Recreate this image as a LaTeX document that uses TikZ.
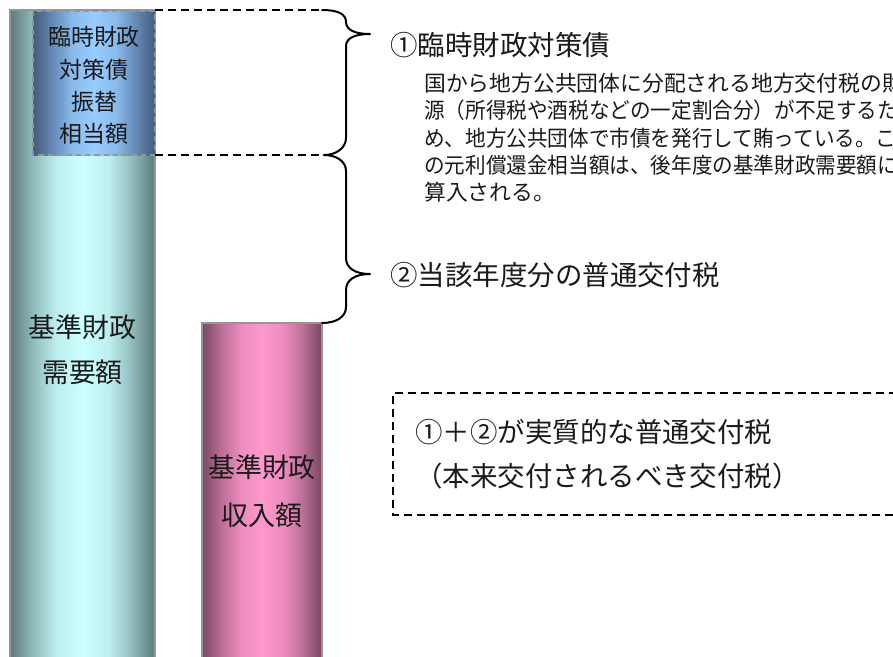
\documentclass[tikz,border=0pt]{standalone}
\usepackage{fontspec}
\newfontfamily\jp{Noto Sans CJK JP}
\definecolor{tealD}{RGB}{92,122,122}
\definecolor{tealM}{RGB}{145,188,188}
\definecolor{tealL2}{RGB}{190,238,238}
\definecolor{tealL}{RGB}{204,255,255}
\definecolor{blueD}{RGB}{68,92,125}
\definecolor{blueM}{RGB}{102,137,182}
\definecolor{blueL2}{RGB}{138,186,236}
\definecolor{blueL}{RGB}{153,204,255}
\definecolor{pinkD}{RGB}{120,72,97}
\definecolor{pinkM}{RGB}{188,110,150}
\definecolor{pinkL2}{RGB}{236,140,190}
\definecolor{pinkL}{RGB}{255,153,204}
\definecolor{edgegray}{RGB}{150,150,150}
\definecolor{txt}{RGB}{26,26,26}
\pgfdeclarehorizontalshading{tealsh}{100bp}{color(0bp)=(tealD); color(25bp)=(tealD); color(33bp)=(tealM); color(41bp)=(tealL2); color(50bp)=(tealL); color(59bp)=(tealL2); color(67bp)=(tealM); color(75bp)=(tealD); color(100bp)=(tealD)}
\pgfdeclarehorizontalshading{bluesh}{100bp}{color(0bp)=(blueD); color(25bp)=(blueD); color(33bp)=(blueM); color(41bp)=(blueL2); color(50bp)=(blueL); color(59bp)=(blueL2); color(67bp)=(blueM); color(75bp)=(blueD); color(100bp)=(blueD)}
\pgfdeclarehorizontalshading{pinksh}{100bp}{color(0bp)=(pinkD); color(25bp)=(pinkD); color(33bp)=(pinkM); color(41bp)=(pinkL2); color(50bp)=(pinkL); color(59bp)=(pinkL2); color(67bp)=(pinkM); color(75bp)=(pinkD); color(100bp)=(pinkD)}
\tikzset{
  barborder/.style={draw=edgegray, line width=1.5pt},
  blueborder/.style={draw=edgegray, line width=1.5pt, dash pattern=on 4pt off 3pt},
  dline/.style={draw=black, line width=1.1pt, dash pattern=on 6pt off 3.75pt},
  bracestyle/.style={draw=black, line width=1.5pt, line cap=round, line join=round},
  headtext/.style={inner sep=0pt, anchor=west, text=txt, font=\jp\fontsize{20.6pt}{24pt}\selectfont},
  desctext/.style={inner sep=0pt, anchor=west, text=txt, font=\jp\fontsize{16.35pt}{19pt}\selectfont},
  bluetext/.style={inner sep=0pt, text=txt, font=\jp\fontsize{17.2pt}{20pt}\selectfont},
  bartext/.style={inner sep=0pt, text=txt, font=\jp\fontsize{20.2pt}{24pt}\selectfont},
  sumbox/.style={draw=black, line width=1.1pt, dash pattern=on 6pt off 3.75pt}
}
\begin{document}
\begin{tikzpicture}[x=0.75pt,y=-0.75pt]
\useasboundingbox (0,0) rectangle (893,657);
\clip (0,0) rectangle (893,657);
\fill[white] (0,0) rectangle (893,657);
% key points
\coordinate (tealTL) at (10,10);
\coordinate (tealBR) at (155,690);
\coordinate (blueTL) at (33,11);
\coordinate (blueBR) at (155,155);
\coordinate (blueTR) at (155,10);
\coordinate (pinkTL) at (202,323);
\coordinate (pinkBR) at (322,690);
\coordinate (pinkTR) at (322,323);
\coordinate (b1start) at (322,10);
\coordinate (b1tip) at (370,34);
\coordinate (mid) at (324,155);
\coordinate (b2tip) at (370,274);
% teal bar
\shade[shading=tealsh] (tealTL) rectangle (tealBR);
\draw[barborder] (10,690) -- (tealTL) -- (155,10) -- (tealBR);
% blue box
\shade[shading=bluesh] (blueTL) rectangle (blueBR);
\draw[blueborder] (blueTL) rectangle (blueBR);
% pink bar
\shade[shading=pinksh] (pinkTL) rectangle (pinkBR);
\draw[barborder] (202,690) -- (pinkTL) -- (pinkTR) -- (pinkBR);
% dashed guide lines
\draw[dline] (blueTR) -- (b1start);
\draw[dline] (blueBR) -- (mid);
% brace 1
\draw[bracestyle] (b1start) .. controls (338,10) and (346,14) .. (346,22)
  .. controls (346,30) and (355,34) .. (b1tip)
  .. controls (355,34) and (346,38) .. (346,46) -- (346,138)
  .. controls (346,148) and (336,155) .. (mid);
% brace 2
\draw[bracestyle] (mid) .. controls (336,155) and (346,161) .. (346,171) -- (346,258)
  .. controls (346,268) and (355,274) .. (b2tip)
  .. controls (355,274) and (346,280) .. (346,290) -- (346,307)
  .. controls (346,317) and (336,323) .. (pinkTR);
% bar texts
\node[bluetext] (bl1) at (94,37) {臨時財政};
\node[bluetext] (bl2) at (94,70) {対策債};
\node[bluetext] (bl3) at (94,102) {振替};
\node[bluetext] (bl4) at (94,134) {相当額};
\node[bartext] (tl1) at (82.5,327) {基準財政};
\node[bartext] (tl2) at (82.5,372) {需要額};
\node[bartext] (pl1) at (262,467) {基準財政};
\node[bartext] (pl2) at (262,515) {収入額};
% right texts
\node[headtext] (h1) at (390,45) {①臨時財政対策債};
\node[desctext] (d1) at (424,83) {国から地方公共団体に分配される地方交付税の財};
\node[desctext] (d2) at (424,110) {\scalebox{0.945}[1]{源（所得税や酒税などの一定割合分）が不足するた}};
\node[desctext] (d3) at (424,138) {\scalebox{0.945}[1]{め、地方公共団体で市債を発行して賄っている。こ}};
\node[desctext] (d4) at (424,165) {\scalebox{0.945}[1]{の元利償還金相当額は、後年度の基準財政需要額に}};
\node[desctext] (d5) at (424,192) {算入される。};
\node[headtext] (h2) at (390,275) {②当該年度分の普通交付税};
% sum box
\draw[sumbox] (910,393) -- (393,393) -- (393,515) -- (910,515);
\node[headtext] (s1) at (415,432) {①＋②が実質的な普通交付税};
\node[headtext] (s2) at (415,476) {（本来交付されるべき交付税）};
\end{tikzpicture}
\end{document}
